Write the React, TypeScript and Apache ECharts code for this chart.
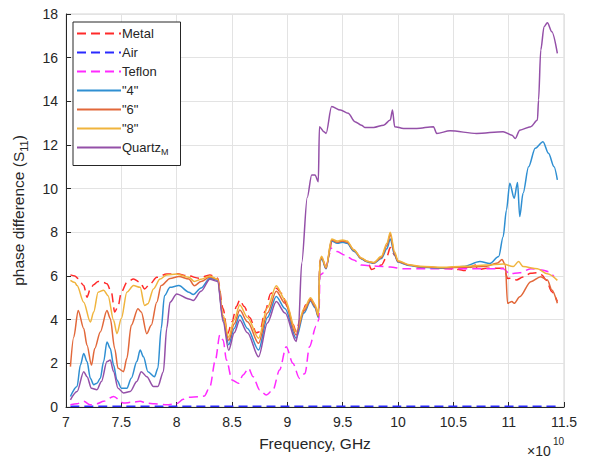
import React, { useEffect, useRef } from "react";
import * as echarts from "echarts";

const xTicks = [7, 7.5, 8, 8.5, 9, 9.5, 10, 10.5, 11, 11.5];
const yTicks = [0, 2, 4, 6, 8, 10, 12, 14, 16, 18];

const metal: [number, number][] = [[7.04,6.05],[7.08,6.0],[7.11,5.88],[7.16,5.56],[7.19,5.03],[7.22,5.41],[7.25,5.6],[7.29,5.75],[7.34,5.7],[7.37,5.64],[7.41,5.26],[7.44,4.35],[7.47,4.6],[7.5,5.26],[7.55,5.71],[7.61,5.86],[7.67,5.71],[7.71,5.41],[7.76,5.64],[7.82,5.94],[7.91,6.09],[8.0,6.1],[8.11,6.0],[8.2,5.9],[8.3,6.05],[8.37,5.9],[8.42,4.5],[8.46,3.35],[8.5,3.9],[8.54,4.6],[8.57,4.9],[8.61,4.6],[8.66,4.1],[8.72,3.4],[8.75,3.45],[8.8,4.4],[8.85,5.2],[8.9,5.44],[8.95,5.2],[9.0,4.6],[9.05,3.8],[9.08,3.45],[9.12,4.1],[9.17,4.7],[9.21,4.95],[9.25,4.7],[9.28,4.2],[9.295,6.7],[9.31,6.85],[9.35,6.36],[9.38,7.0],[9.4,7.6],[9.45,7.5],[9.5,7.6],[9.54,7.55],[9.6,7.15],[9.67,6.8],[9.73,6.6],[9.76,6.3],[9.85,6.5],[9.9,6.9],[9.93,7.3],[9.97,6.95],[10.0,6.66],[10.1,6.5],[10.2,6.42],[10.4,6.36],[10.55,6.3],[10.6,6.25],[10.7,6.5],[10.72,6.3],[10.8,6.35],[10.9,6.36],[10.96,6.35],[10.99,5.89],[11.03,5.9],[11.07,5.82],[11.13,5.95],[11.2,6.13],[11.26,6.15],[11.3,6.05],[11.34,5.8],[11.39,5.28],[11.44,4.83]];

const air: [number, number][] = [[7.04,0.03],[8.0,0.03],[9.0,0.03],[10.0,0.03],[11.44,0.03]];

const teflon: [number, number][] = [[7.04,0.1],[7.1,0.15],[7.16,0.26],[7.22,0.1],[7.28,0.15],[7.34,0.26],[7.43,0.48],[7.52,0.18],[7.6,0.22],[7.67,0.26],[7.73,0.18],[7.8,0.15],[7.91,0.1],[8.0,0.15],[8.06,0.35],[8.11,0.45],[8.2,0.47],[8.25,0.5],[8.3,0.93],[8.35,2.15],[8.39,3.3],[8.42,3.07],[8.45,2.15],[8.5,1.24],[8.56,1.09],[8.6,1.47],[8.65,1.77],[8.69,1.39],[8.75,0.78],[8.81,0.55],[8.87,0.78],[8.93,1.7],[8.99,2.76],[9.05,2.0],[9.11,1.31],[9.16,1.54],[9.2,2.76],[9.26,3.7],[9.285,4.0],[9.295,6.05],[9.33,6.15],[9.36,6.6],[9.39,7.28],[9.45,7.12],[9.52,6.96],[9.6,6.73],[9.67,6.5],[9.81,6.45],[9.93,6.41],[10.05,6.33],[10.5,6.33],[10.95,6.33],[11.01,6.1],[11.1,6.15],[11.2,6.33],[11.3,6.28],[11.36,6.2],[11.41,5.97]];

const s4: [number, number][] = [[7.04,0.48],[7.1,0.94],[7.13,1.92],[7.16,2.45],[7.19,2.08],[7.22,1.32],[7.25,1.02],[7.28,1.09],[7.31,1.32],[7.34,2.08],[7.37,2.98],[7.4,2.68],[7.43,1.92],[7.46,1.24],[7.5,0.86],[7.55,0.86],[7.59,1.32],[7.64,2.08],[7.67,2.61],[7.7,2.3],[7.74,1.62],[7.8,1.39],[7.83,1.77],[7.86,3.59],[7.89,5.1],[7.94,5.48],[8.02,5.56],[8.11,5.26],[8.15,5.15],[8.22,5.45],[8.3,5.9],[8.37,5.8],[8.42,4.0],[8.47,2.85],[8.52,3.6],[8.57,4.21],[8.64,3.6],[8.74,2.61],[8.82,4.1],[8.9,5.06],[8.98,4.5],[9.08,3.15],[9.15,4.3],[9.21,4.85],[9.25,4.55],[9.28,4.1],[9.295,6.65],[9.31,6.8],[9.35,6.33],[9.4,7.6],[9.45,7.5],[9.5,7.55],[9.54,7.5],[9.6,7.15],[9.67,6.78],[9.73,6.63],[9.78,6.58],[9.85,6.8],[9.9,7.25],[9.93,7.7],[9.97,6.95],[10.0,6.64],[10.1,6.48],[10.2,6.4],[10.4,6.36],[10.59,6.43],[10.74,6.66],[10.83,6.57],[10.91,6.89],[10.95,7.8],[10.98,9.02],[11.01,10.25],[11.05,9.56],[11.08,10.28],[11.1,8.72],[11.13,9.79],[11.18,11.0],[11.24,11.85],[11.31,12.15],[11.36,11.62],[11.41,11.0],[11.44,10.4]];

const s6: [number, number][] = [[7.04,1.85],[7.07,3.2],[7.11,4.42],[7.16,3.6],[7.19,2.83],[7.23,1.92],[7.26,2.68],[7.31,3.44],[7.37,4.42],[7.4,4.05],[7.44,2.68],[7.47,1.77],[7.52,1.62],[7.55,2.23],[7.59,3.74],[7.65,4.5],[7.68,4.35],[7.73,3.36],[7.77,3.74],[7.82,4.8],[7.86,5.56],[7.94,5.89],[8.02,5.98],[8.11,5.86],[8.16,5.55],[8.22,5.75],[8.3,5.95],[8.37,5.85],[8.42,4.1],[8.47,3.05],[8.52,3.8],[8.57,4.44],[8.64,3.9],[8.74,2.92],[8.82,4.3],[8.9,5.3],[8.98,4.75],[9.08,3.3],[9.15,4.4],[9.21,4.9],[9.25,4.6],[9.28,4.15],[9.295,6.7],[9.31,6.85],[9.35,6.36],[9.4,7.65],[9.45,7.55],[9.5,7.6],[9.54,7.55],[9.6,7.2],[9.67,6.8],[9.73,6.66],[9.78,6.6],[9.85,6.85],[9.9,7.4],[9.93,7.9],[9.97,7.0],[10.0,6.66],[10.1,6.5],[10.2,6.42],[10.4,6.38],[10.6,6.4],[10.8,6.45],[10.9,6.6],[10.94,6.76],[10.97,6.5],[10.99,4.75],[11.03,4.83],[11.05,4.75],[11.1,5.05],[11.2,5.74],[11.29,5.97],[11.35,5.82],[11.39,5.36],[11.44,4.75]];

const s8: [number, number][] = [[7.04,5.8],[7.08,5.7],[7.1,5.56],[7.16,4.8],[7.22,3.89],[7.25,4.35],[7.29,5.26],[7.34,5.35],[7.38,5.1],[7.43,3.97],[7.46,3.36],[7.5,4.05],[7.55,5.26],[7.61,5.56],[7.67,5.48],[7.71,4.65],[7.74,4.73],[7.79,5.41],[7.85,5.86],[7.91,6.05],[8.0,6.09],[8.11,5.94],[8.16,5.75],[8.22,5.85],[8.3,6.0],[8.37,5.85],[8.42,4.2],[8.47,3.2],[8.52,4.0],[8.57,4.67],[8.64,4.1],[8.74,3.15],[8.82,4.55],[8.9,5.55],[8.98,4.9],[9.08,3.45],[9.15,4.5],[9.21,5.0],[9.25,4.7],[9.28,4.2],[9.295,6.75],[9.31,6.9],[9.35,6.4],[9.4,7.7],[9.45,7.6],[9.5,7.65],[9.54,7.6],[9.6,7.2],[9.67,6.82],[9.73,6.66],[9.78,6.62],[9.85,6.9],[9.9,7.5],[9.93,8.0],[9.97,7.1],[10.0,6.7],[10.1,6.52],[10.2,6.45],[10.4,6.4],[10.6,6.45],[10.8,6.5],[10.95,6.55],[11.04,6.43],[11.09,6.66],[11.13,6.43],[11.26,6.33],[11.35,6.1],[11.44,5.8]];

const quartz: [number, number][] = [[7.04,0.33],[7.1,0.71],[7.16,1.62],[7.19,1.39],[7.23,0.86],[7.28,0.79],[7.32,1.17],[7.37,2.08],[7.4,2.15],[7.43,1.62],[7.47,0.86],[7.52,0.64],[7.58,0.71],[7.64,1.17],[7.68,1.62],[7.73,1.39],[7.79,0.94],[7.83,0.94],[7.88,1.62],[7.91,3.59],[7.94,4.8],[8.0,5.18],[8.11,4.95],[8.15,4.88],[8.22,5.3],[8.3,5.85],[8.37,5.75],[8.42,3.9],[8.47,2.6],[8.52,3.4],[8.57,3.98],[8.64,3.4],[8.74,2.3],[8.82,3.85],[8.9,4.83],[8.98,4.3],[9.08,3.0],[9.1,3.6],[9.13,6.6],[9.18,9.6],[9.22,10.63],[9.25,10.63],[9.28,10.32],[9.29,12.84],[9.33,12.61],[9.35,12.53],[9.4,13.76],[9.48,13.6],[9.55,13.45],[9.61,13.07],[9.67,12.91],[9.7,12.8],[9.78,12.8],[9.87,12.91],[9.93,13.14],[9.95,13.6],[9.97,12.84],[10.05,12.76],[10.17,12.76],[10.32,12.84],[10.35,12.53],[10.47,12.65],[10.71,12.53],[10.95,12.61],[11.03,12.45],[11.06,12.3],[11.1,12.68],[11.2,12.84],[11.26,13.14],[11.27,14.06],[11.29,16.35],[11.32,17.42],[11.35,17.6],[11.39,17.19],[11.44,16.2]];

const seriesNames = ["Metal", "Air", "Teflon", "\"4\"", "\"6\"", "\"8\"", "QuartzM"];
const seriesData = [metal, air, teflon, s4, s6, s8, quartz];
const colors = ["#FF2A2A", "#2A2AFF", "#FF2AFF", "#2F8FD2", "#E2683A", "#F0B43C", "#9450A8"];
const dashed = [true, true, true, false, false, false, false];

const FONT = "'Liberation Sans', Arial, Helvetica, sans-serif";

export default function App() {
  const ref = useRef<HTMLDivElement>(null);
  useEffect(() => {
    if (!ref.current) return;
    const chart = echarts.init(ref.current, undefined, { renderer: "svg" });
    chart.setOption({
      animation: false,
      backgroundColor: "#ffffff",
      textStyle: { fontFamily: FONT },
      grid: { left: 66, right: 26, top: 14, bottom: 51, show: true, borderColor: "#d4d4d4", borderWidth: 1 },
      legend: {
        left: 73,
        top: 22,
        orient: "vertical",
        backgroundColor: "#ffffff",
        borderColor: "#262626",
        borderWidth: 1,
        borderRadius: 0,
        padding: [5, 12, 9, 3],
        itemWidth: 44,
        itemHeight: 14,
        itemGap: 6,
        itemStyle: { color: "transparent", borderWidth: 0, opacity: 0 },
        textStyle: {
          fontFamily: FONT,
          fontSize: 13,
          color: "#262626",
          padding: [0, 0, 0, -4],
          rich: { sub: { fontSize: 9, color: "#262626", padding: [9, 0, 0, 0], fontFamily: FONT } },
        },
        formatter: (name: string) => (name === "QuartzM" ? "Quartz{sub|M}" : name),
        data: seriesNames,
      },
      xAxis: {
        type: "value",
        min: xTicks[0],
        max: xTicks[xTicks.length - 1],
        interval: 0.5,
        name: "Frequency, GHz",
        nameLocation: "middle",
        nameGap: 28,
        nameTextStyle: { fontFamily: FONT, fontSize: 15.5, color: "#262626" },
        axisLine: { show: true, onZero: false, lineStyle: { color: "#262626", width: 1 } },
        axisTick: { show: true, inside: true, length: 5, lineStyle: { color: "#262626" } },
        axisLabel: { fontFamily: FONT, fontSize: 14, color: "#262626", margin: 8, formatter: (v: number) => String(v) },
        splitLine: { show: true, lineStyle: { color: "#e3e3e3", width: 1 } },
      },
      yAxis: {
        type: "value",
        min: yTicks[0],
        max: yTicks[yTicks.length - 1],
        interval: 2,
        name: "phase difference (S{sub|11})",
        nameLocation: "middle",
        nameGap: 37,
        nameRotate: 90,
        nameTextStyle: {
          fontFamily: FONT,
          fontSize: 15.5,
          color: "#262626",
          rich: { sub: { fontSize: 11, color: "#262626", padding: [10, 0, 0, 0], fontFamily: FONT } },
        },
        axisLine: { show: true, lineStyle: { color: "#262626", width: 1 } },
        axisTick: { show: true, inside: true, length: 5, lineStyle: { color: "#262626" } },
        axisLabel: { fontFamily: FONT, fontSize: 14, color: "#262626", margin: 8 },
        splitLine: { show: true, lineStyle: { color: "#e3e3e3", width: 1 } },
      },
      graphic: [
        { type: "text", left: 527, top: 444, style: { text: "×10", fontSize: 14, fill: "#262626", fontFamily: FONT } },
        { type: "text", left: 553, top: 436, style: { text: "10", fontSize: 10, fill: "#262626", fontFamily: FONT } },
      ],
      series: seriesNames.map((name, i) => ({
        name,
        type: "line",
        data: seriesData[i],
        showSymbol: false,
        symbol: "none",
        smooth: 0.3,
        smoothMonotone: "x",
        color: colors[i],
        lineStyle: { color: colors[i], width: 1.5, type: dashed[i] ? [9, 5] : "solid" },
        z: 2 + i,
      })),
    });
    return () => chart.dispose();
  }, []);
  return <div ref={ref} style={{ position: "absolute", left: 0, top: 0, width: 590, height: 458 }} />;
}
